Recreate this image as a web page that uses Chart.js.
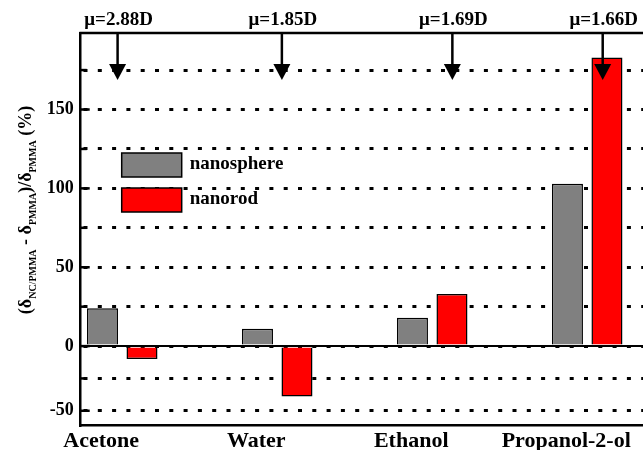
<!DOCTYPE html>
<html>
<head>
<meta charset="utf-8">
<script src="https://cdn.jsdelivr.net/npm/chart.js@4.4.1/dist/chart.umd.min.js"></script>
<style>
  html, body { margin: 0; padding: 0; background: #fff; }
  #contenedor { width: 643px; height: 450px; position: relative; }
</style>
</head>
<body>
<div id="contenedor"><canvas id="grafico"></canvas></div>
<script>
// Datos
const CATEGORIAS = ['Acetone', 'Water', 'Ethanol', 'Propanol-2-ol'];
const NANOSPHERE = [24, 11, 18, 103];
const NANOROD = [-10, -39, 33, 183];
const SERIES = ['nanosphere', 'nanorod'];
const DIPOLOS = ['μ=2.88D', 'μ=1.85D', 'μ=1.69D', 'μ=1.66D'];
const POS_DIPOLOS = [-0.03, 1.03, 2.13, 3.1];

const Y_MIN = -61;
const Y_MAX = 198.5;
const X_MIN = -0.268;
const X_MAX = 3.36;
// el tramo negativo del eje va comprimido en la figura original
const FACTOR_NEG = 0.82;
const FUENTE = "'Liberation Serif', 'Times New Roman', serif";

class EscalaQuebrada extends Chart.LinearScale {
  static id = 'quebrada';
  _t(v) { return v < 0 ? v * FACTOR_NEG : v; }
  getPixelForValue(value) {
    if (value === null || value === undefined || isNaN(value)) return NaN;
    const a = this._t(this.min), b = this._t(this.max);
    return this.getPixelForDecimal((this._t(value) - a) / (b - a));
  }
  getValueForPixel(pixel) {
    const a = this._t(this.min), b = this._t(this.max);
    const t = a + this.getDecimalForPixel(pixel) * (b - a);
    return t < 0 ? t / FACTOR_NEG : t;
  }
}
Chart.register(EscalaQuebrada);

const pluginAnotaciones = {
  id: 'pluginAnotaciones',
  afterDatasetsDraw(chart) {
    const { ctx, chartArea, scales } = chart;
    const { left, right, top } = chartArea;
    const y0 = scales.y.getPixelForValue(0);

    ctx.save();
    ctx.strokeStyle = '#000';
    ctx.fillStyle = '#000';

    // línea del cero y borde superior
    ctx.lineWidth = 2;
    ctx.beginPath();
    ctx.moveTo(left, y0);
    ctx.lineTo(right, y0);
    ctx.stroke();
    ctx.lineWidth = 2.5;
    ctx.beginPath();
    ctx.moveTo(left - 1.25, top);
    ctx.lineTo(right, top);
    ctx.stroke();

    // marcas hacia dentro en el eje Y
    ctx.lineWidth = 2.5;
    scales.y.ticks.forEach((t) => {
      const y = scales.y.getPixelForValue(t.value);
      const largo = t.value % 50 === 0 ? 9 : 6;
      ctx.beginPath();
      ctx.moveTo(left, y);
      ctx.lineTo(left + largo, y);
      ctx.stroke();
    });

    // flechas de momento dipolar
    ctx.font = `bold 19px ${FUENTE}`;
    ctx.textAlign = 'center';
    ctx.textBaseline = 'alphabetic';
    DIPOLOS.forEach((txt, i) => {
      const x = scales.x.getPixelForValue(POS_DIPOLOS[i]);
      ctx.lineWidth = 2.5;
      ctx.beginPath();
      ctx.moveTo(x, top);
      ctx.lineTo(x, top + 33);
      ctx.stroke();
      ctx.beginPath();
      ctx.moveTo(x - 8.5, top + 31);
      ctx.lineTo(x + 8.5, top + 31);
      ctx.lineTo(x, top + 47);
      ctx.closePath();
      ctx.fill();
      ctx.fillText(txt, x + 1, top - 8);
    });

    // leyenda dentro del área
    const lx = left + 41;
    chart.data.datasets.forEach((ds, i) => {
      const ly = top + 120 + i * 35;
      ctx.fillStyle = ds.backgroundColor;
      ctx.fillRect(lx, ly, 60, 24);
      ctx.lineWidth = 1.5;
      ctx.strokeStyle = '#000';
      ctx.strokeRect(lx, ly, 60, 24);
      ctx.fillStyle = '#000';
      ctx.font = `bold 19px ${FUENTE}`;
      ctx.textAlign = 'left';
      ctx.textBaseline = 'middle';
      ctx.fillText(ds.label, lx + 68, ly + 11);
    });
    ctx.restore();
  },
  afterDraw(chart) {
    // título del eje Y con subíndices
    const { ctx } = chart;
    const partes = [
      ['(δ', 0], ['NC/PMMA', 1], [' - δ', 0], ['PMMA', 1], [')/δ', 0], ['PMMA', 1], [' (%)', 0],
    ];
    const fPrin = `bold 18px ${FUENTE}`;
    const fSub = `bold 10px ${FUENTE}`;
    ctx.save();
    let total = 0;
    partes.forEach(([t, sub]) => {
      ctx.font = sub ? fSub : fPrin;
      total += ctx.measureText(t).width;
    });
    ctx.translate(31, 210);
    ctx.rotate(-Math.PI / 2);
    ctx.fillStyle = '#000';
    ctx.textAlign = 'left';
    ctx.textBaseline = 'alphabetic';
    let x = -total / 2;
    partes.forEach(([t, sub]) => {
      ctx.font = sub ? fSub : fPrin;
      ctx.fillText(t, x, sub ? 5 : 0);
      x += ctx.measureText(t).width;
    });
    ctx.restore();
  },
};

const aPuntos = (arr) => arr.map((v, i) => ({ x: i, y: v }));

new Chart(document.getElementById('grafico'), {
  type: 'bar',
  data: {
    datasets: [
      {
        label: SERIES[0],
        data: aPuntos(NANOSPHERE),
        backgroundColor: '#808080',
        borderColor: '#000',
        borderWidth: 1.5,
        categoryPercentage: 0.51,
        barPercentage: 0.785,
      },
      {
        label: SERIES[1],
        data: aPuntos(NANOROD),
        backgroundColor: '#ff0000',
        borderColor: '#000',
        borderWidth: 1.5,
        categoryPercentage: 0.51,
        barPercentage: 0.785,
      },
    ],
  },
  options: {
    responsive: true,
    maintainAspectRatio: false,
    animation: false,
    layout: { padding: { top: 33, right: 0, bottom: 0, left: 0 } },
    scales: {
      x: {
        type: 'linear',
        min: X_MIN,
        max: X_MAX,
        offset: false,
        grid: { display: false, drawTicks: false, offset: false },
        border: { display: true, color: '#000', width: 2.5 },
        afterBuildTicks: (axis) => { axis.ticks = CATEGORIAS.map((_, i) => ({ value: i })); },
        afterFit: (axis) => { axis.height = 25; axis.paddingLeft = 0; axis.paddingRight = 0; },
        ticks: {
          callback: (v) => CATEGORIAS[v] ?? '',
          font: { family: FUENTE, size: 22, weight: 'bold' },
          color: '#000',
          padding: 3,
          labelOffset: -21,
          maxRotation: 0,
          autoSkip: false,
        },
      },
      y: {
        type: 'quebrada',
        min: Y_MIN,
        max: Y_MAX,
        grid: { color: '#000', lineWidth: 3, drawTicks: false },
        border: { display: true, color: '#000', width: 2.5, dash: [4, 10.3], dashOffset: -2 },
        afterFit: (axis) => { axis.width = 80.7; axis.paddingTop = 0; axis.paddingBottom = 0; },
        ticks: {
          stepSize: 25,
          includeBounds: false,
          callback: (v) => (v % 50 === 0 ? v : ''),
          font: { family: FUENTE, size: 18, weight: 'bold' },
          color: '#000',
          padding: 7,
        },
      },
    },
    plugins: { legend: { display: false }, tooltip: { enabled: false } },
  },
  plugins: [pluginAnotaciones],
});
</script>
</body>
</html>
